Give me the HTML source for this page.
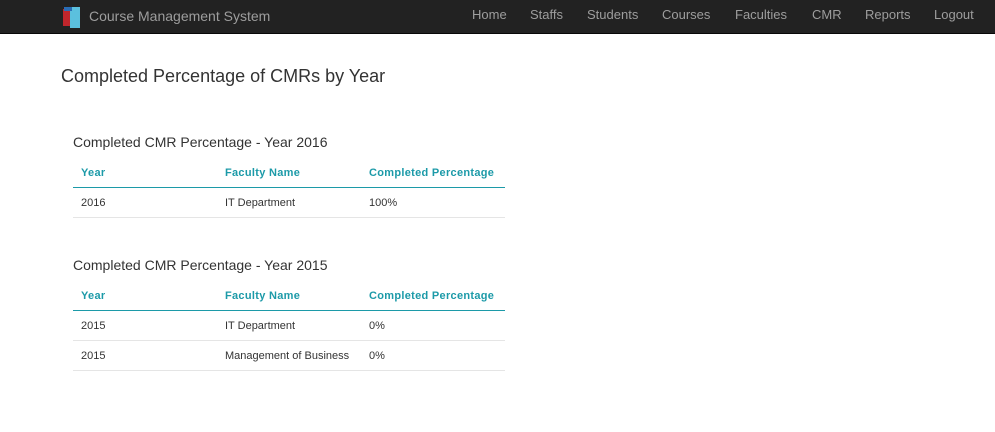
<!DOCTYPE html>
<html><head><meta charset="utf-8">
<style>
body{margin:0;width:995px;height:432px;background:#fff;font-family:"Liberation Sans",Arial,sans-serif;position:relative;overflow:hidden}
.nav{position:absolute;left:0;top:0;width:995px;height:33px;background:#222;border-bottom:1px solid #080808}
.brand{position:absolute;left:89px;top:8px;color:#9d9d9d;font-size:14px}
.logo{position:absolute;left:63px;top:6px;width:18px;height:22px}
.nav a{position:absolute;top:7px;color:#9d9d9d;font-size:13px;text-decoration:none}
h1{position:absolute;left:61px;top:66px;margin:0;font-size:18px;font-weight:normal;color:#333}
h3{position:absolute;left:73px;margin:0;font-size:14px;font-weight:normal;color:#333}
.tbl{position:absolute;left:73px;width:432px;font-size:11px;color:#333}
.hd{height:24px;border-bottom:1px solid #1c9aa8;position:relative;color:#1c9aa8;font-weight:bold;letter-spacing:0.3px}
.row{height:29px;border-bottom:1px solid #e5e5e5;position:relative}
.c{position:absolute}
.hd .c{top:4px}.row .c{top:9px}
</style></head><body>
<div class="nav">
<svg class="logo" viewBox="0 0 18 22"><rect x="0" y="3" width="8" height="17" fill="#c0262c"/><rect x="7" y="1" width="10" height="21" fill="#5bc0de"/><rect x="1" y="1" width="8" height="4" fill="#2a6db5"/></svg>
<span class="brand">Course Management System</span>
<a style="left:472px">Home</a>
<a style="left:530px">Staffs</a>
<a style="left:587px">Students</a>
<a style="left:662px">Courses</a>
<a style="left:735px">Faculties</a>
<a style="left:812px">CMR</a>
<a style="left:865px">Reports</a>
<a style="left:934px">Logout</a>
</div>
<h1>Completed Percentage of CMRs by Year</h1>
<h3 style="top:134px">Completed CMR Percentage - Year 2016</h3>
<div class="tbl" style="top:163px">
<div class="hd"><span class="c" style="left:8px">Year</span><span class="c" style="left:152px">Faculty Name</span><span class="c" style="left:296px">Completed Percentage</span></div>
<div class="row"><span class="c" style="left:8px">2016</span><span class="c" style="left:152px">IT Department</span><span class="c" style="left:296px">100%</span></div>
</div>
<h3 style="top:257px">Completed CMR Percentage - Year 2015</h3>
<div class="tbl" style="top:286px">
<div class="hd"><span class="c" style="left:8px">Year</span><span class="c" style="left:152px">Faculty Name</span><span class="c" style="left:296px">Completed Percentage</span></div>
<div class="row"><span class="c" style="left:8px">2015</span><span class="c" style="left:152px">IT Department</span><span class="c" style="left:296px">0%</span></div>
<div class="row"><span class="c" style="left:8px">2015</span><span class="c" style="left:152px">Management of Business</span><span class="c" style="left:296px">0%</span></div>
</div>
</body></html>
